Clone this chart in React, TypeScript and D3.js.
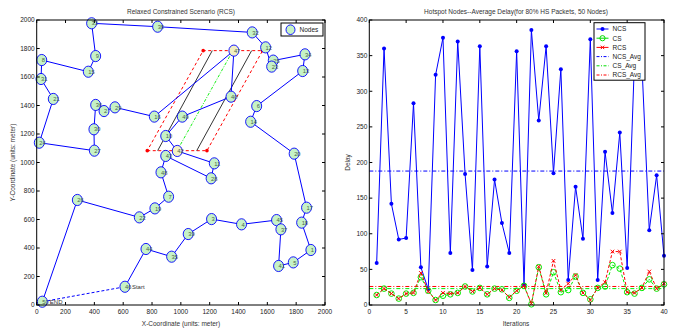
import * as d3 from 'd3';

// ---------- left panel: tour of nodes ----------
const tourLabels = ['46','44','35','39','3','4','45','37','41','5','1','18','17','20','14','6','13','34','25','23','12','32','38','33','9','15','8','31','21','24','27','30','36','2','29','16','47','40','49','10','42','11','28','43','48','7','19','22','26','50'];
const tourX = [612,758,936,1051,1213,1421,1664,1694,1678,1780,1902,1838,1872,1786,1484,1526,1845,1861,1641,1630,1588,1495,839,381,409,358,35,30,115,18,400,397,409,467,543,816,1368,1348,1010,895,975,1232,1210,895,862,915,820,712,282,39];
const tourY = [128,393,339,498,603,566,596,531,274,299,386,578,683,1062,1286,1396,1642,1759,1715,1673,1808,1913,1953,1977,1747,1637,1719,1586,1446,1139,1083,1233,1404,1361,1387,1322,1785,1462,1322,1186,1081,994,889,1046,931,760,678,615,737,23];
const srcLabel = '42';
const dstLabel = '47';

// relaxed region (parallelogram) and inner band
const regionX = [767, 1181, 1567, 1155];
const regionY = [1083, 1083, 1785, 1785];
const bandLeft = [[839, 1083], [1218, 1785]];
const bandRight = [[1110, 1083], [1491, 1785]];
const centerLine = [[974, 1083], [1361, 1785]];

const mTicks = d3.range(0, 2001, 200);

// ---------- right panel: delay per iteration ----------
const iterations = d3.range(1, 41);
const ncs = [59,360,142,92,94,283,53,22,323,375,73,370,184,49,363,54,176,115,73,356,28,386,259,363,185,331,35,166,93,373,35,215,129,242,52,345,338,105,182,69];
const cs = [14,23,16,9,16,17,39,20,7,13,15,17,26,19,24,15,23,22,10,20,27,1,53,15,46,18,21,40,17,8,24,26,56,51,18,16,24,36,23,29];
const rcs = [14,23,16,9,16,17,45,19,7,17,16,17,26,19,24,15,23,21,11,20,27,2,54,17,62,21,30,42,17,7,24,32,75,75,18,17,24,47,23,30];
const ncsAvg = 188;
const csAvg = 23;
const rcsAvg = 26;
const iterTicks = d3.range(0, 41, 5);
const delayTicks = d3.range(0, 401, 50);

const FONT = 'Liberation Sans, Arial, sans-serif';

function Box({ x, y, xt, yt }) {
  const [x0, x1] = x.range();
  const [y0, y1] = y.range();
  const tl = 3;
  return (
    <g fontFamily={FONT} fontSize={6.5} fill="#222">
      <rect x={x0} y={y1} width={x1 - x0} height={y0 - y1} fill="none" stroke="#000" strokeWidth={1} />
      {xt.map(t => (
        <g key={'x' + t}>
          <line x1={x(t)} x2={x(t)} y1={y0} y2={y0 - tl} stroke="#000" />
          <line x1={x(t)} x2={x(t)} y1={y1} y2={y1 + tl} stroke="#000" />
          <text x={x(t)} y={y0 + 9} textAnchor="middle">{t}</text>
        </g>
      ))}
      {yt.map(t => (
        <g key={'y' + t}>
          <line x1={x0} x2={x0 + tl} y1={y(t)} y2={y(t)} stroke="#000" />
          <line x1={x1} x2={x1 - tl} y1={y(t)} y2={y(t)} stroke="#000" />
          <text x={x0 - 2} y={y(t) + 2.3} textAnchor="end">{t}</text>
        </g>
      ))}
    </g>
  );
}

function XMark({ cx, cy, r, color }) {
  return (
    <g stroke={color} strokeWidth={1}>
      <line x1={cx - r} x2={cx + r} y1={cy - r} y2={cy + r} />
      <line x1={cx - r} x2={cx + r} y1={cy + r} y2={cy - r} />
    </g>
  );
}

export default function App() {
  const xL = d3.scaleLinear().domain([0, 2000]).range([36.7, 325]);
  const yL = d3.scaleLinear().domain([0, 2000]).range([305, 20]);
  const xR = d3.scaleLinear().domain([0, 40]).range([369.3, 664]);
  const yR = d3.scaleLinear().domain([0, 400]).range([305, 20]);

  const tour = tourX.map((v, i) => [v, tourY[i]]);
  const tourLine = d3.line().x(d => xL(d[0])).y(d => yL(d[1]));
  const seg = pts => tourLine(pts);
  const region = regionX.map((v, i) => [v, regionY[i]]);

  const lineR = vals => d3.line().x((d, i) => xR(iterations[i])).y(d => yR(d))(vals);

  const legR = [
    { name: 'NCS', color: '#0000ff', dash: null, mark: 'dot' },
    { name: 'CS', color: '#00dd00', dash: null, mark: 'circle' },
    { name: 'RCS', color: '#ff0000', dash: null, mark: 'x' },
    { name: 'NCS_Avg', color: '#0000ff', dash: '3,1.5,1,1.5', mark: null },
    { name: 'CS_Avg', color: '#00dd00', dash: '3,1.5,1,1.5', mark: null },
    { name: 'RCS_Avg', color: '#ff0000', dash: '3,1.5,1,1.5', mark: null },
  ];

  return (
    <svg width={679} height={331} style={{ position: 'absolute', left: 0, top: 0, background: '#fff' }}>
      {/* ---------- left panel ---------- */}
      <text x={181} y={13.5} textAnchor="middle" fontFamily={FONT} fontSize={6.5} fill="#333">Relaxed Constrained Scenario (RCS)</text>
      <text x={181} y={325.5} textAnchor="middle" fontFamily={FONT} fontSize={6.5} fill="#333">X-Coordinate (units: meter)</text>
      <text transform={`translate(15,162.5) rotate(-90)`} textAnchor="middle" fontFamily={FONT} fontSize={6.5} fill="#333">Y-Coordinate (units: meter)</text>

      {/* relaxed region */}
      <path d={seg(region.concat([region[0]]))} fill="none" stroke="#ff0000" strokeWidth={1} strokeDasharray="3,2.5" />
      <path d={seg(bandLeft)} fill="none" stroke="#000" strokeWidth={0.8} />
      <path d={seg(bandRight)} fill="none" stroke="#000" strokeWidth={0.8} />
      <path d={seg(centerLine)} fill="none" stroke="#00ee00" strokeWidth={0.9} strokeDasharray="3,1.5,1,1.5" />
      {region.map((p, i) => <circle key={i} cx={xL(p[0])} cy={yL(p[1])} r={1.8} fill="#ff0000" />)}

      {/* tour */}
      <path d={tourLine(tour)} fill="none" stroke="#0000ff" strokeWidth={1} />
      <path d={seg([tour[tour.length - 1], tour[0]])} fill="none" stroke="#0000ff" strokeWidth={1} strokeDasharray="3,2" />
      {tour.map((p, i) => (
        <g key={i}>
          <ellipse cx={xL(p[0])} cy={yL(p[1])} rx={5} ry={5.6}
            fill={tourLabels[i] === srcLabel || tourLabels[i] === dstLabel ? '#f2f0c2' : '#c6f2c6'}
            stroke="#0000ff" strokeWidth={0.9} />
          <text x={xL(p[0])} y={yL(p[1]) + 2.2} fontFamily={FONT} fontSize={5.8} fill="#4a654a">{tourLabels[i]}</text>
        </g>
      ))}
      <text x={xL(tourX[0]) + 7} y={yL(tourY[0]) + 2} fontFamily={FONT} fontSize={6} fill="#333">Start</text>
      <text x={xL(tourX[49]) + 7.5} y={yL(tourY[49]) + 2.5} fontFamily={FONT} fontSize={6} fill="#333">END</text>

      <Box x={xL} y={yL} xt={mTicks} yt={mTicks} />

      {/* left legend */}
      <rect x={281} y={23} width={42} height={13} fill="#fff" stroke="#000" strokeWidth={1} />
      <ellipse cx={290.5} cy={29.7} rx={4.5} ry={4.8} fill="#c6f2c6" stroke="#0000ff" strokeWidth={0.9} />
      <text x={299.5} y={32} fontFamily={FONT} fontSize={6.5} fill="#222">Nodes</text>

      {/* ---------- right panel ---------- */}
      <text x={516} y={13.5} textAnchor="middle" fontFamily={FONT} fontSize={6.5} fill="#333">Hotspot Nodes--Average Delay(for 80% HS Packets, 50 Nodes)</text>
      <text x={516} y={325.5} textAnchor="middle" fontFamily={FONT} fontSize={6.5} fill="#333">Iterations</text>
      <text transform={`translate(350,162.5) rotate(-90)`} textAnchor="middle" fontFamily={FONT} fontSize={6.5} fill="#333">Delay</text>

      <path d={lineR(ncs)} fill="none" stroke="#0000ff" strokeWidth={1} />
      {ncs.map((v, i) => <circle key={i} cx={xR(iterations[i])} cy={yR(v)} r={2} fill="#0000ff" />)}

      <line x1={xR(0)} x2={xR(40)} y1={yR(ncsAvg)} y2={yR(ncsAvg)} stroke="#0000ff" strokeWidth={1} strokeDasharray="4,2,1,2" />
      <line x1={xR(0)} x2={xR(40)} y1={yR(csAvg)} y2={yR(csAvg)} stroke="#00ee00" strokeWidth={1} strokeDasharray="4,2,1,2" />
      <line x1={xR(0)} x2={xR(40)} y1={yR(rcsAvg)} y2={yR(rcsAvg)} stroke="#ff0000" strokeWidth={1} strokeDasharray="4,2,1,2" />

      <path d={lineR(cs)} fill="none" stroke="#00ee00" strokeWidth={1} strokeDasharray="3,2" />
      {cs.map((v, i) => <circle key={i} cx={xR(iterations[i])} cy={yR(v)} r={2.8} fill="none" stroke="#00ee00" strokeWidth={1} />)}
      <path d={lineR(rcs)} fill="none" stroke="#ff0000" strokeWidth={1} strokeDasharray="3,2" />
      {rcs.map((v, i) => <XMark key={i} cx={xR(iterations[i])} cy={yR(v)} r={1.8} color="#ff0000" />)}

      <Box x={xR} y={yR} xt={iterTicks} yt={delayTicks} />

      {/* right legend */}
      <rect x={594} y={22.7} width={51} height={57.5} fill="#fff" stroke="#000" strokeWidth={1} />
      {legR.map((e, i) => {
        const ly = 29 + i * 9.2;
        return (
          <g key={e.name}>
            <line x1={596.5} x2={608.5} y1={ly} y2={ly} stroke={e.color} strokeWidth={1} strokeDasharray={e.dash || undefined} />
            {e.mark === 'dot' && <circle cx={602.5} cy={ly} r={2} fill={e.color} />}
            {e.mark === 'circle' && <circle cx={602.5} cy={ly} r={2.6} fill="none" stroke={e.color} />}
            {e.mark === 'x' && <XMark cx={602.5} cy={ly} r={1.7} color={e.color} />}
            <text x={612.5} y={ly + 2.3} fontFamily={FONT} fontSize={6.5} fill="#222">{e.name}</text>
          </g>
        );
      })}
    </svg>
  );
}
